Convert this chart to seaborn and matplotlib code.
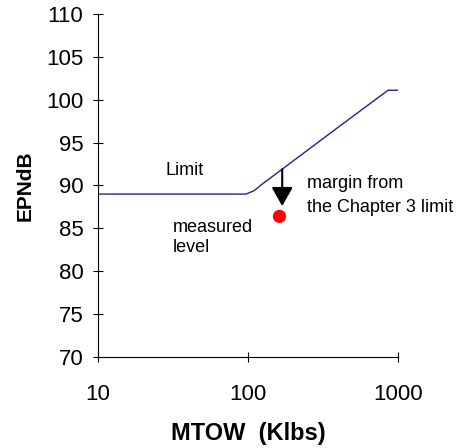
import matplotlib
matplotlib.use("Agg")
import matplotlib.pyplot as plt
import seaborn as sns
import pandas as pd
from matplotlib.ticker import FixedLocator, NullLocator

# limit line (MTOW in klbs, EPNdB)
limit_mtow = [10, 40, 97, 110, 123, 169, 400, 858, 1000]
limit_db = [89.0, 89.0, 89.0, 89.4, 90.1, 91.9, 96.8, 101.1, 101.1]

# measured aircraft
meas_mtow = [162]
meas_db = [86.4]

# arrow from the limit down to the measured level
arrow_x = 169
arrow_top = 91.9
arrow_tip = 87.6

sns.set_style("ticks")
plt.rcParams["font.family"] = ["Liberation Sans", "DejaVu Sans"]
for k in ["text.color", "axes.labelcolor", "xtick.color", "ytick.color",
          "axes.edgecolor"]:
    plt.rcParams[k] = "black"

fig = plt.figure(figsize=(4.61, 4.48), dpi=100)
ax = fig.add_axes([0.2126, 0.203, 0.6508, 0.766])

df_lim = pd.DataFrame({"mtow": limit_mtow, "db": limit_db})
df_meas = pd.DataFrame({"mtow": meas_mtow, "db": meas_db})

sns.lineplot(data=df_lim, x="mtow", y="db", color="#20209a", lw=1.0, ax=ax)
sns.scatterplot(data=df_meas, x="mtow", y="db", color="#ff0000", s=90,
                edgecolor="none", zorder=5, ax=ax)

ax.annotate("", xy=(arrow_x, arrow_tip), xytext=(arrow_x, arrow_top),
            arrowprops=dict(arrowstyle="-|>,head_length=1.15,head_width=0.65",
                            mutation_scale=10, color="black", lw=1.5,
                            shrinkA=0, shrinkB=0))

ax.set_xscale("log")
ax.set_xlim(10, 1000)
ax.set_ylim(70, 110)
ax.xaxis.set_major_locator(FixedLocator([10, 100, 1000]))
ax.xaxis.set_minor_locator(NullLocator())
ax.set_xticklabels(["10", "100", "1000"])
ax.set_yticks(range(70, 111, 5))

ax.tick_params(axis="both", direction="inout", length=7.2, width=0.8,
               labelsize=16)
ax.tick_params(axis="x", pad=16)
ax.tick_params(axis="y", pad=7)
for s in ["top", "right"]:
    ax.spines[s].set_visible(False)
for s in ["left", "bottom"]:
    ax.spines[s].set_linewidth(0.8)

ax.set_xlabel("MTOW  (Klbs)", fontsize=17, fontweight="bold", labelpad=12)
ax.set_ylabel("EPNdB", fontsize=15, fontweight="bold", labelpad=8)

fs = 13
ax.text(38, 91.2, "Limit", fontsize=fs, ha="center", va="baseline")
ax.text(31.5, 84.6, "measured", fontsize=fs, ha="left", va="baseline")
ax.text(31.5, 82.3, "level", fontsize=fs, ha="left", va="baseline")
ax.text(247, 89.7, "margin from", fontsize=fs, ha="left", va="baseline")
ax.text(247, 86.9, "the Chapter 3 limit", fontsize=fs, ha="left",
        va="baseline")

fig.savefig("out.png", dpi=100)
